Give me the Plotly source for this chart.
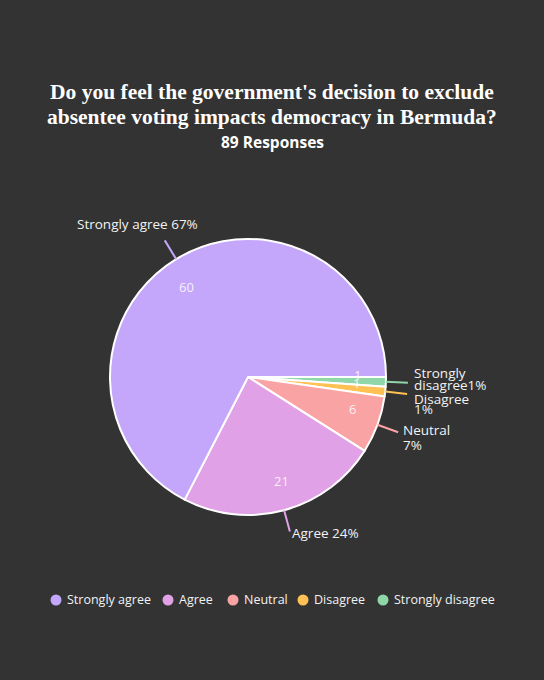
import math
import plotly.graph_objects as go

# data
categories = ['Strongly agree', 'Agree', 'Neutral', 'Disagree', 'Strongly disagree']
responses = [60, 21, 6, 1, 1]
pct_labels = [['Strongly agree 67%'], ['Agree 24%'], ['Neutral', '7%'],
              ['Disagree', '1%'], ['Strongly', 'disagree1%']]
colors = ['#c4a6fa', '#e0a1e6', '#f9a3a4', '#ffc153', '#8fd7a8']

# page geometry (pixels)
W, H = 544, 680
CX, CY, R = 248, 377, 138
BG = '#333333'
TXT = '#f2f2f2'

# outside label nudges relative to end of leader line: dx, dy, xanchor, line gap
nudges = [(-27, -16, 'center', 0),
          (0, 2, 'left', 0),
          (3, -2, 'left', 15),
          (5, 5, 'left', 10.5),
          (4, -10, 'left', 12)]
# legend marker centres (px)
legend_x = [56, 168, 233, 303, 383]
legend_y = 600


def px2paper(x, y):
    return x / W, 1 - y / H


fig = go.Figure()
# drawn clockwise in reverse order so that "Strongly agree" ends at 3 o'clock
fig.add_trace(go.Pie(
    labels=categories[::-1], values=responses[::-1], sort=False,
    direction='clockwise', rotation=90,
    marker=dict(colors=colors[::-1], line=dict(color='white', width=2)),
    textinfo='none', hoverinfo='label+value+percent', showlegend=False,
    domain=dict(x=[(CX - R) / W, (CX + R) / W],
                y=[1 - (CY + R) / H, 1 - (CY - R) / H]),
))

total = sum(responses)
cum = 0
shapes, annots = [], []
for i, v in enumerate(responses):
    mid = (cum + v / 2) / total * 2 * math.pi
    cum += v
    ux, uy = math.cos(mid), -math.sin(mid)
    # value inside slice
    vm = mid + math.radians(3)
    ix, iy = px2paper(CX + 0.79 * R * math.cos(vm), CY - 0.79 * R * math.sin(vm))
    annots.append(dict(x=ix, y=iy, xref='paper', yref='paper', text=str(v),
                       showarrow=False, xanchor='center', yanchor='middle',
                       font=dict(family='Open Sans', size=13, color='rgba(255,255,255,0.85)')))
    # leader line
    hx, hy = CX + R * ux, CY + R * uy
    tx, ty = CX + (R + 22) * ux, CY + (R + 22) * uy
    x0, y0 = px2paper(hx, hy)
    x1, y1 = px2paper(tx, ty)
    shapes.append(dict(type='line', xref='paper', yref='paper', x0=x0, y0=y0, x1=x1, y1=y1,
                       line=dict(color=colors[i], width=2)))
    dx, dy, xa, gap = nudges[i]
    for k, line in enumerate(pct_labels[i]):
        lx, ly = px2paper(tx + dx, ty + dy + k * gap)
        annots.append(dict(x=lx, y=ly, xref='paper', yref='paper', text=line,
                           showarrow=False, xanchor=xa, yanchor='middle',
                           font=dict(family='Open Sans', size=13.5, color=TXT)))

# legend
for c, col, lx in zip(categories, colors, legend_x):
    mx0, my0 = px2paper(lx - 5.5, legend_y + 5.5)
    mx1, my1 = px2paper(lx + 5.5, legend_y - 5.5)
    shapes.append(dict(type='circle', xref='paper', yref='paper',
                       x0=mx0, y0=my0, x1=mx1, y1=my1,
                       fillcolor=col, line=dict(width=0)))
    tx, ty = px2paper(lx + 9, legend_y - 0.5)
    annots.append(dict(x=tx, y=ty, xref='paper', yref='paper', text=c, showarrow=False,
                       xanchor='left', yanchor='middle',
                       font=dict(family='Open Sans', size=12.5, color=TXT)))

# title
title_lines = ["Do you feel the government's decision to exclude",
               "absentee voting impacts democracy in Bermuda?"]
for k, t in enumerate(title_lines):
    annots.append(dict(x=0.5, y=1 - (92 + 25 * k) / H, xref='paper', yref='paper',
                       showarrow=False, xanchor='center', yanchor='middle',
                       text='<b>' + t + '</b>',
                       font=dict(family='Liberation Serif', size=21.5, color='white')))
annots.append(dict(x=0.5, y=1 - 142 / H, xref='paper', yref='paper', showarrow=False,
                   xanchor='center', yanchor='middle', text='<b>89 Responses</b>',
                   font=dict(family='Open Sans', size=15.5, color='white')))

fig.update_layout(
    width=W, height=H, paper_bgcolor=BG, plot_bgcolor=BG,
    margin=dict(l=0, r=0, t=0, b=0),
    shapes=shapes, annotations=annots, showlegend=False,
)

fig.write_html('out.html', config={'displayModeBar': False},
               post_script="document.body.style.margin='0';")
